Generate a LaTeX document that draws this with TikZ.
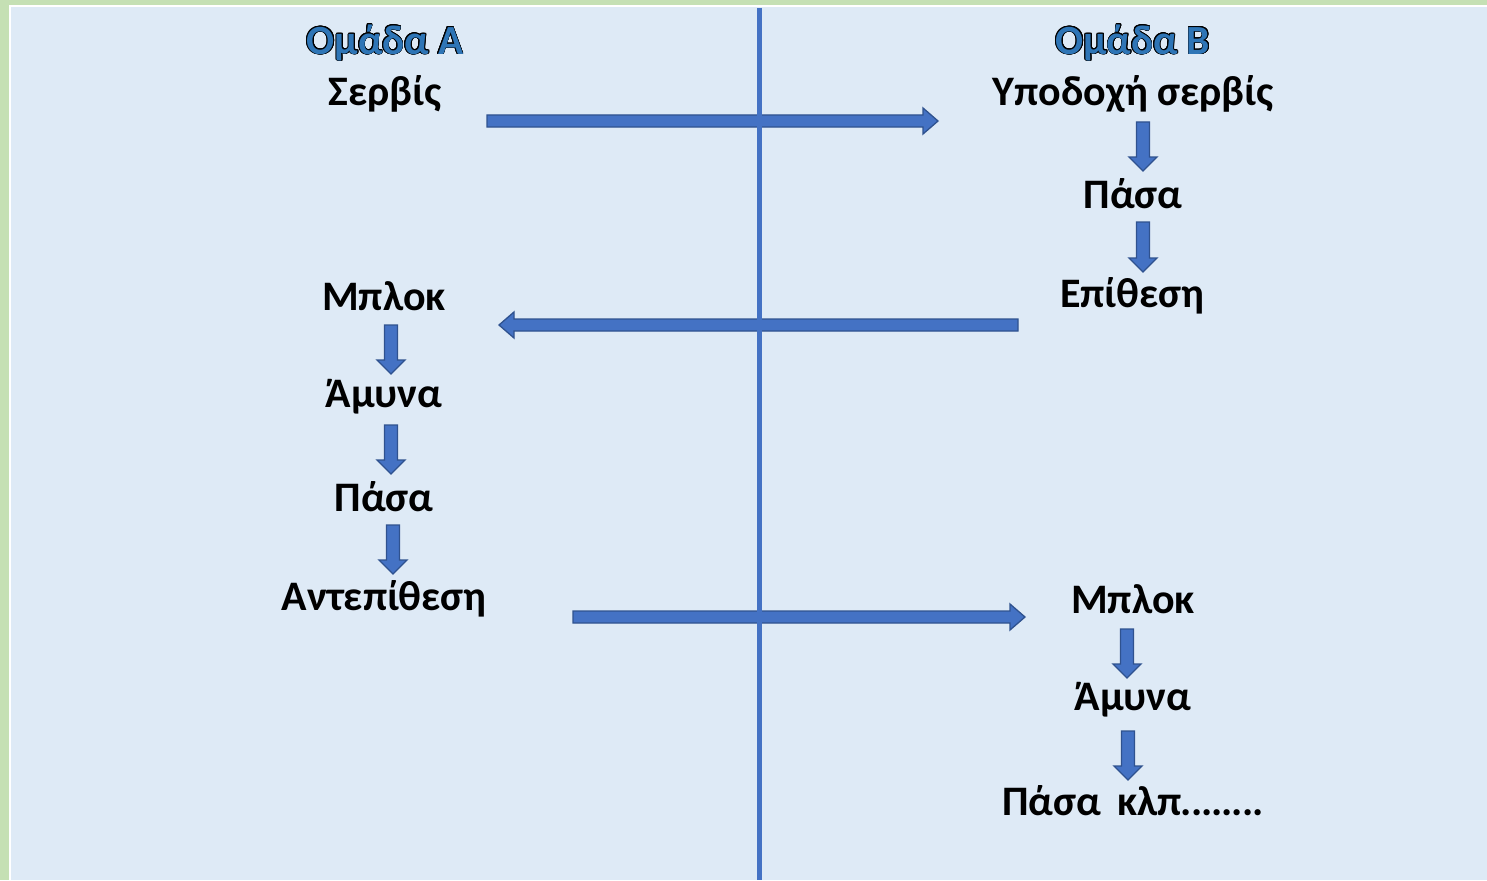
\documentclass[tikz,border=0pt]{standalone}
\usepackage{fontspec}
\setmainfont{Carlito}
\usepackage{contour}
\usetikzlibrary{calc}
\contourlength{0.9pt}
\definecolor{bgblue}{HTML}{DEEAF6}
\definecolor{bggreen}{HTML}{C5E0B4}
\definecolor{arrfill}{HTML}{4472C4}
\definecolor{arrline}{HTML}{2F528F}
\definecolor{titleblue}{HTML}{2E75B6}
\tikzset{
  lbl/.style={font=\fontsize{42}{50}\selectfont\bfseries, text=black, inner sep=0pt, anchor=center},
  ttl/.style={font=\fontsize{41.5}{50}\selectfont\bfseries, inner sep=0pt, anchor=center},
  blockarrow/.style={fill=arrfill, draw=arrline, line width=1.3pt, line join=miter},
  axis/.style={draw=arrfill, line width=5pt}
}
% horizontal right block arrow: #1 start coord, #2 tip coord
\newcommand\rightblock[2]{%
  \path[blockarrow] let \p1=(#1), \p2=(#2) in
    (\x1,\y1+6pt) -- (\x2-15pt,\y1+6pt) -- (\x2-15pt,\y1+13pt) -- (\x2,\y1)
    -- (\x2-15pt,\y1-13pt) -- (\x2-15pt,\y1-6pt) -- (\x1,\y1-6pt) -- cycle;}
\newcommand\leftblock[2]{%
  \path[blockarrow] let \p1=(#1), \p2=(#2) in
    (\x1,\y1+6pt) -- (\x2+15pt,\y1+6pt) -- (\x2+15pt,\y1+13pt) -- (\x2,\y1)
    -- (\x2+15pt,\y1-13pt) -- (\x2+15pt,\y1-6pt) -- (\x1,\y1-6pt) -- cycle;}
% vertical down block arrow: #1 top centre, #2 tip
\newcommand\downblock[2]{%
  \path[blockarrow] let \p1=(#1), \p2=(#2) in
    (\x1-6.5pt,\y1) -- (\x1-6.5pt,\y2+14pt) -- (\x1-14pt,\y2+14pt) -- (\x1,\y2)
    -- (\x1+14pt,\y2+14pt) -- (\x1+6.5pt,\y2+14pt) -- (\x1+6.5pt,\y1) -- cycle;}
\begin{document}
\begin{tikzpicture}[x=1pt,y=-1pt]
\useasboundingbox (0,0) rectangle (1487,880);
\fill[bggreen] (0,0) rectangle (1487,880);
\fill[white] (9,5) rectangle (1487,880);
\fill[bgblue] (11,7) rectangle (1487,880);

% titles
\node[ttl] (ta) at (385,43) {\contour{black}{\textcolor{titleblue}{Ομάδα Α}}};
\node[ttl] (tb) at (1133,43) {\contour{black}{\textcolor{titleblue}{Ομάδα Β}}};

% left column
\node[lbl] (serv) at (385,94) {Σερβίς};
\node[lbl] (blockA) at (384,296) {Μπλοκ};
\node[lbl] (defA) at (384,397) {Άμυνα};
\node[lbl] (passA) at (384,497) {Πάσα};
\node[lbl] (counterA) at (384,599) {Αντεπίθεση};

% right column
\node[lbl] (recv) at (1133,94) {Υποδοχή σερβίς};
\node[lbl] (passB) at (1133,194) {Πάσα};
\node[lbl] (attB) at (1132,296) {Επίθεση};
\node[lbl] (blockB) at (1133,599) {Μπλοκ};
\node[lbl] (defB) at (1133,700) {Άμυνα};
\node[lbl] (passB2) at (1133,801) {Πάσα\hspace{16pt}κλπ\kern-1pt.\kern-1pt.\kern-1pt.\kern-1pt.\kern-1pt.\kern-1pt.\kern-1pt.\kern-1pt.};

% connector end points
\coordinate (h1s) at (487,121);  \coordinate (h1e) at (938,121);
\coordinate (h2s) at (1018,325); \coordinate (h2e) at (499,325);
\coordinate (h3s) at (573,617);  \coordinate (h3e) at (1025,617);

\coordinate (d1s) at (1143,122); \coordinate (d1e) at (1143,171);
\coordinate (d2s) at (1143,222); \coordinate (d2e) at (1143,272);
\coordinate (d3s) at (391,325);  \coordinate (d3e) at (391,374);
\coordinate (d4s) at (391,425);  \coordinate (d4e) at (391,474);
\coordinate (d5s) at (393,525);  \coordinate (d5e) at (393,574);
\coordinate (d6s) at (1127,629); \coordinate (d6e) at (1127,678);
\coordinate (d7s) at (1128,731); \coordinate (d7e) at (1128,780);

\rightblock{h1s}{h1e}
\leftblock{h2s}{h2e}
\rightblock{h3s}{h3e}
\downblock{d1s}{d1e}
\downblock{d2s}{d2e}
\downblock{d3s}{d3e}
\downblock{d4s}{d4e}
\downblock{d5s}{d5e}
\downblock{d6s}{d6e}
\downblock{d7s}{d7e}

% centre line
\coordinate (vtop) at (759,8);
\coordinate (vbot) at (759,880);
\draw[axis] (vtop) -- (vbot);
\end{tikzpicture}
\end{document}
